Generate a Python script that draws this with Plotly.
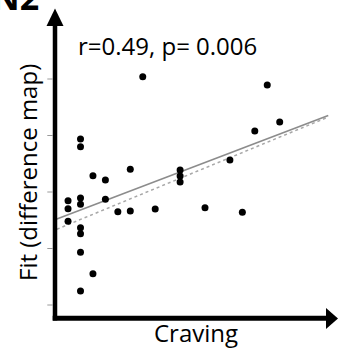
import numpy as np
import plotly.graph_objects as go

# ---- data ----
craving = [1, 1, 1, 2, 2, 2, 2, 2, 2, 2, 2, 3, 3, 4, 4, 5, 6, 6, 7, 8,
           10, 10, 10, 12, 14, 15, 16, 17, 18]
fit_map = [1.846, 1.704, 1.481, 2.938, 2.802, 1.894, 1.782, 1.368, 1.262,
           0.933, 0.248, 2.288, 0.554, 2.212, 1.871, 1.651, 2.402, 1.664,
           4.041, 1.699, 2.389, 2.283, 2.177, 1.722, 2.566, 1.641, 3.080,
           3.894, 3.239]
fit_solid = [1.514, 0.0840]   # intercept, slope
fit_dotted = [1.332, 0.0911]
fit_x_span = [0.1, 21.9]
y_ticks = [0, 1, 2, 3, 4]
stat_label = "r=0.49, p= 0.006"

W, H = 338, 349
X0, XS = 55.6, 12.45      # pixel = X0 + XS * x
Y0, YS = 305.0, 56.5      # pixel = Y0 - YS * y
xr = [-X0 / XS, (W - X0) / XS]
yr = [(Y0 - H) / YS, Y0 / YS]

def px(x):
    return x / W

def py(y):
    return 1 - y / H

fig = go.Figure()

lx = np.linspace(fit_x_span[0], fit_x_span[1], 50)
fig.add_trace(go.Scatter(x=lx, y=fit_dotted[0] + fit_dotted[1] * lx, mode="lines",
                         line=dict(color="#a8a8a8", width=1.5, dash="dot"),
                         hoverinfo="skip"))
fig.add_trace(go.Scatter(x=lx, y=fit_solid[0] + fit_solid[1] * lx, mode="lines",
                         line=dict(color="#8c8c8c", width=1.6),
                         hoverinfo="skip"))
fig.add_trace(go.Scatter(x=craving, y=fit_map, mode="markers",
                         marker=dict(color="black", size=7)))

shapes = []
# y tick marks
for t in y_ticks:
    shapes.append(dict(type="line", xref="x", yref="y",
                       x0=(47.3 - X0) / XS, x1=(52.5 - X0) / XS, y0=t, y1=t,
                       line=dict(color="#9a9a9a", width=1)))
# axis lines
shapes.append(dict(type="line", xref="paper", yref="paper",
                   x0=px(55), x1=px(55), y0=py(320.5), y1=py(24),
                   line=dict(color="black", width=4.5)))
shapes.append(dict(type="line", xref="paper", yref="paper",
                   x0=px(52.7), x1=px(328), y0=py(318.3), y1=py(318.3),
                   line=dict(color="black", width=5)))
# arrow heads
shapes.append(dict(type="path", xref="paper", yref="paper",
                   path=f"M {px(55)} {py(8.5)} L {px(63.5)} {py(26)} L {px(46.5)} {py(26)} Z",
                   fillcolor="black", line=dict(width=0)))
shapes.append(dict(type="path", xref="paper", yref="paper",
                   path=f"M {px(338)} {py(318.5)} L {px(326)} {py(308)} L {px(326)} {py(329)} Z",
                   fillcolor="black", line=dict(width=0)))

annotations = [
    dict(text=stat_label, xref="paper", yref="paper", x=px(76), y=py(46),
         xanchor="left", yanchor="middle", showarrow=False,
         font=dict(family="Open Sans", size=24, color="black")),
    dict(text="Craving", xref="paper", yref="paper", x=px(196), y=py(332),
         xanchor="center", yanchor="middle", showarrow=False,
         font=dict(family="Open Sans", size=24, color="black")),
    dict(text="Fit (difference map)", xref="paper", yref="paper", x=px(27), y=py(173),
         xanchor="center", yanchor="middle", showarrow=False, textangle=-90,
         font=dict(family="Open Sans", size=24, color="black")),
    dict(text="<b>N2</b>", xref="paper", yref="paper", x=px(-10), y=py(22),
         xanchor="left", yanchor="bottom", showarrow=False,
         font=dict(family="Open Sans", size=34, color="black")),
]

fig.update_layout(
    width=W, height=H, margin=dict(l=0, r=0, t=0, b=0),
    paper_bgcolor="white", plot_bgcolor="white", showlegend=False,
    xaxis=dict(range=xr, visible=False, fixedrange=True),
    yaxis=dict(range=yr, visible=False, fixedrange=True),
    shapes=shapes, annotations=annotations,
)

fig.write_html("out.html")
